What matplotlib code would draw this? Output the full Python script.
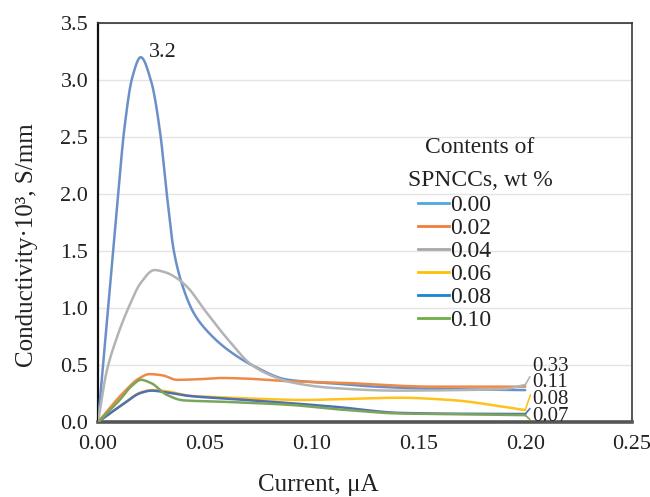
import numpy as np
import matplotlib
matplotlib.use("Agg")
import matplotlib.pyplot as plt
from matplotlib.lines import Line2D

plt.rcParams['font.family'] = ['Liberation Serif', 'DejaVu Serif']

# ---- data ----
labels = ["0.00", "0.02", "0.04", "0.06", "0.08", "0.10"]

x_000 = [0, 0.0047, 0.0094, 0.0125, 0.016, 0.020, 0.025, 0.029, 0.0325, 0.0355,
         0.040, 0.045, 0.052, 0.061, 0.072, 0.089, 0.109, 0.130, 0.160, 0.200]
y_000 = [0, 1.00, 2.00, 2.60, 3.02, 3.20, 2.98, 2.55, 1.95, 1.50,
         1.17, 0.95, 0.78, 0.63, 0.50, 0.37, 0.34, 0.31, 0.29, 0.28]

x_002 = [0, 0.012, 0.019, 0.024, 0.030, 0.037, 0.047, 0.058, 0.070, 0.087, 0.113, 0.157, 0.200]
y_002 = [0, 0.26, 0.38, 0.42, 0.41, 0.37, 0.375, 0.386, 0.38, 0.36, 0.345, 0.31, 0.31]

x_004 = [0, 0.004, 0.009, 0.0142, 0.020, 0.0264, 0.032, 0.037, 0.042, 0.050, 0.061, 0.072,
         0.082, 0.090, 0.109, 0.140, 0.170, 0.190, 0.200]
y_004 = [0, 0.44, 0.75, 1.00, 1.22, 1.333, 1.31, 1.26, 1.18, 0.98, 0.72, 0.50,
         0.40, 0.35, 0.30, 0.275, 0.28, 0.29, 0.325]

x_006 = [0, 0.012, 0.020, 0.025, 0.032, 0.043, 0.060, 0.080, 0.095, 0.113, 0.141, 0.165, 0.200]
y_006 = [0, 0.16, 0.26, 0.28, 0.27, 0.23, 0.215, 0.20, 0.193, 0.20, 0.213, 0.193, 0.105]

x_008 = [0, 0.012, 0.020, 0.025, 0.032, 0.043, 0.060, 0.074, 0.095, 0.113, 0.141, 0.170, 0.200]
y_008 = [0, 0.16, 0.255, 0.275, 0.26, 0.228, 0.205, 0.187, 0.158, 0.13, 0.08, 0.072, 0.07]

x_010 = [0, 0.010, 0.016, 0.020, 0.025, 0.032, 0.040, 0.058, 0.090, 0.113, 0.141, 0.170, 0.200]
y_010 = [0, 0.19, 0.32, 0.37, 0.34, 0.24, 0.19, 0.178, 0.15, 0.11, 0.075, 0.068, 0.06]

peak_label = "3.2"
end_labels = ["0.33", "0.11", "0.08", "0.07"]
legend_title = ["Contents of", "SPNCCs, wt %"]

series_x = [x_000, x_002, x_004, x_006, x_008, x_010]
series_y = [y_000, y_002, y_004, y_006, y_008, y_010]

line_colors = ['#6A90C9', '#EE8A48', '#B3B3B3', '#FFC21A', '#4F70B6', '#7BA65A']
legend_colors = ['#4DA8E0', '#F07F3C', '#A8A8A8', '#FFC000', '#1A84D0', '#70AD47']


def smooth(xs, ys, n=40):
    """Shape-preserving (PCHIP) smoothed line through the points."""
    x = np.asarray(xs, float)
    y = np.asarray(ys, float)
    h = np.diff(x)
    d = np.diff(y) / h
    m = np.zeros_like(y)
    for k in range(1, len(x) - 1):
        if d[k - 1] * d[k] > 0:
            w1 = 2 * h[k] + h[k - 1]
            w2 = h[k] + 2 * h[k - 1]
            m[k] = (w1 + w2) / (w1 / d[k - 1] + w2 / d[k])
        else:
            m[k] = 0.0
    m[0] = d[0]
    m[-1] = d[-1]
    ox, oy = [x[0]], [y[0]]
    t = np.linspace(0, 1, n)[1:]
    for k in range(len(x) - 1):
        h00 = 2 * t ** 3 - 3 * t ** 2 + 1
        h10 = t ** 3 - 2 * t ** 2 + t
        h01 = -2 * t ** 3 + 3 * t ** 2
        h11 = t ** 3 - t ** 2
        ox.extend(x[k] + t * h[k])
        oy.extend(h00 * y[k] + h10 * h[k] * m[k] + h01 * y[k + 1] + h11 * h[k] * m[k + 1])
    return np.array(ox), np.array(oy)


fig = plt.figure(figsize=(6.5, 4.97), dpi=100)
ax = fig.add_axes([0.1508, 0.1509, 0.8215, 0.8028])

for xs, ys, c in zip(series_x, series_y, line_colors):
    sx, sy = smooth(xs, ys)
    ax.plot(sx, sy, color=c, lw=1.8, solid_capstyle='round', solid_joinstyle='round', zorder=3)

ax.set_xlim(0, 0.25)
ax.set_ylim(0, 3.5)
ax.set_xticks(np.arange(0, 0.2501, 0.05))
ax.set_yticks(np.arange(0, 3.501, 0.5))
ax.xaxis.set_major_formatter(matplotlib.ticker.FormatStrFormatter('%.2f'))
ax.yaxis.set_major_formatter(matplotlib.ticker.FormatStrFormatter('%.1f'))
ax.tick_params(length=0, labelsize=16, colors='#222222')
ax.tick_params(axis='y', pad=7)
ax.tick_params(axis='x', pad=9)
ax.grid(axis='y', color='#E4E4E4', lw=1.0, zorder=0)
ax.set_axisbelow(True)

ax.spines['left'].set_color('#111111')
ax.spines['left'].set_linewidth(1.6)
ax.spines['bottom'].set_color('#555555')
ax.spines['bottom'].set_linewidth(2.6)
ax.spines['top'].set_color('#333333')
ax.spines['top'].set_linewidth(1.2)
ax.spines['right'].set_color('#555555')
ax.spines['right'].set_linewidth(1.4)

ax.set_ylabel("Conductivity·10³, S/mm", fontsize=18, color='#222222')
ax.yaxis.label.set_va('center')
ax.yaxis.set_label_coords(-0.133, 0.444)
ax.set_xlabel("Current, μA", fontsize=18, color='#222222')
ax.xaxis.label.set_va('center')
ax.xaxis.set_label_coords(0.412, -0.158)

# peak label
ax.text(0.0239, 3.24, peak_label, fontsize=16, color='#222222', ha='left', va='center')

# end labels with leader lines
ends = [(x_004[-1], y_004[-1]), (x_006[-1], y_006[-1]), (x_008[-1], y_008[-1]), (x_010[-1], y_010[-1])]
label_y = [0.49, 0.345, 0.195, 0.05]
lead_colors = [line_colors[2], line_colors[3], line_colors[4], line_colors[5]]
for (ex, ey), ly, txt, lc in zip(ends, label_y, end_labels, lead_colors):
    ax.annotate(txt, xy=(ex, ey), xytext=(0.2035, ly), fontsize=15, color='#222222',
                ha='left', va='center',
                arrowprops=dict(arrowstyle='-', color=lc, lw=1.2, shrinkA=0, shrinkB=0,
                                relpos=(0, 0.2)))

# legend title (two centred lines) and legend rows
ax.text(0.7154, 0.689, legend_title[0], transform=ax.transAxes, fontsize=17,
        color='#222222', ha='center', va='center')
ax.text(0.7154, 0.6065, legend_title[1], transform=ax.transAxes, fontsize=17,
        color='#222222', ha='center', va='center')

handles = [Line2D([0], [0], color=c, lw=2) for c in legend_colors]
leg = ax.legend(handles, labels, loc='upper left',
                bbox_to_anchor=(0.599, 0.570), frameon=False, fontsize=17,
                handlelength=1.3, handletextpad=0.08, labelspacing=0.065, borderpad=0.0,
                borderaxespad=0.0)
for t in leg.get_texts():
    t.set_color('#222222')

fig.savefig("out.png", dpi=100, facecolor='white')
